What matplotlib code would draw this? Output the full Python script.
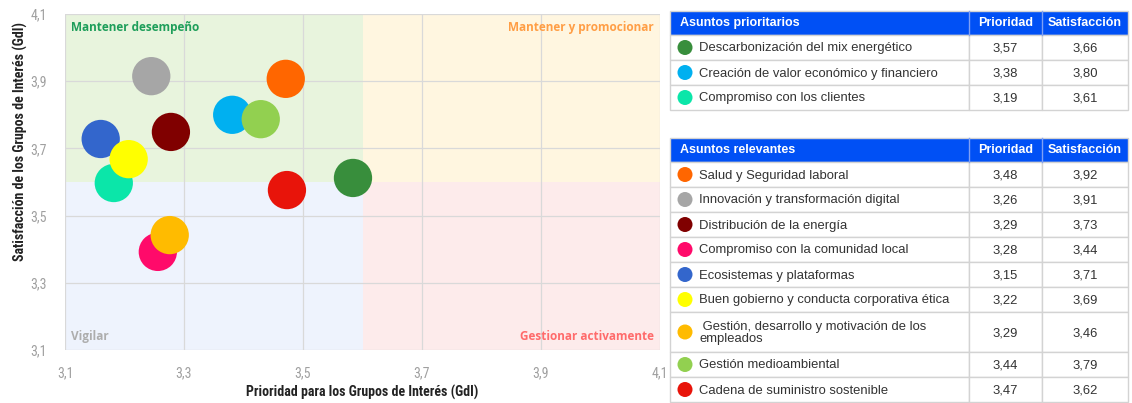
import matplotlib.pyplot as plt
from matplotlib.patches import Rectangle, Circle

# --- data ---
# asuntos prioritarios
prio_names = ["Descarbonización del mix energético",
              "Creación de valor económico y financiero",
              "Compromiso con los clientes"]
prio_colors = ["#388E3C", "#00B0F0", "#0BE6A9"]
prio_prioridad = ["3,57", "3,38", "3,19"]
prio_satisf = ["3,66", "3,80", "3,61"]
# positions as drawn in the bubble chart
prio_x = [3.584, 3.381, 3.182]
prio_y = [3.612, 3.800, 3.597]

# asuntos relevantes
rel_names = ["Salud y Seguridad laboral",
             "Innovación y transformación digital",
             "Distribución de la energía",
             "Compromiso con la comunidad local",
             "Ecosistemas y plataformas",
             "Buen gobierno y conducta corporativa ética",
             " Gestión, desarrollo y motivación de los\nempleados",
             "Gestión medioambiental",
             "Cadena de suministro sostenible"]
rel_colors = ["#FF6600", "#A6A6A6", "#800000", "#FF0A6A", "#3366CC",
              "#FFFF00", "#FFBB00", "#92D050", "#E8140A"]
rel_prioridad = ["3,48", "3,26", "3,29", "3,28", "3,15", "3,22", "3,29", "3,44", "3,47"]
rel_satisf = ["3,92", "3,91", "3,73", "3,44", "3,71", "3,69", "3,46", "3,79", "3,62"]
rel_x = [3.471, 3.245, 3.278, 3.256, 3.160, 3.207, 3.276, 3.429, 3.473]
rel_y = [3.907, 3.915, 3.749, 3.392, 3.728, 3.668, 3.442, 3.787, 3.576]

ticks = [3.1, 3.3, 3.5, 3.7, 3.9, 4.1]
tick_labels = ["3,1", "3,3", "3,5", "3,7", "3,9", "4,1"]
split = 3.6

narrow = ["Roboto Condensed", "Roboto"]

W, H = 1132, 403
fig = plt.figure(figsize=(W / 100, H / 100), dpi=100)

# --- bubble chart ---
ax = fig.add_axes([65 / W, 1 - 350 / H, 595 / W, 336 / H])
ax.set_xlim(3.1, 4.1)
ax.set_ylim(3.1, 4.1)

quads = [
    (3.1, split, split, 4.1, "#E8F4DD"),
    (split, 4.1, split, 4.1, "#FFF6E0"),
    (3.1, split, 3.1, split, "#EEF3FD"),
    (split, 4.1, 3.1, split, "#FDEBEB"),
]
for x0, x1, y0, y1, c in quads:
    ax.add_patch(Rectangle((x0, y0), x1 - x0, y1 - y0, facecolor=c, edgecolor="none", zorder=0))

for t in ticks:
    ax.axvline(t, color="#D9D9D9", lw=0.9, zorder=1)
    ax.axhline(t, color="#D9D9D9", lw=0.9, zorder=1)

ax.scatter(prio_x + rel_x, prio_y + rel_y, s=760, c=prio_colors + rel_colors,
           edgecolors="none", zorder=3)

ax.text(3.11, 4.08, "Mantener desempeño", color="#1E9E5A", fontsize=8.5,
        fontweight="bold", ha="left", va="top", family="Open Sans")
ax.text(4.09, 4.08, "Mantener y promocionar", color="#FF9E45", fontsize=8.5,
        fontweight="bold", ha="right", va="top", family="Open Sans")
ax.text(3.11, 3.12, "Vigilar", color="#ADADAD", fontsize=8.5,
        fontweight="bold", ha="left", va="bottom", family="Open Sans")
ax.text(4.09, 3.12, "Gestionar activamente", color="#FF6B6B", fontsize=8.5,
        fontweight="bold", ha="right", va="bottom", family="Open Sans")

ax.set_xticks(ticks)
ax.set_xticklabels(tick_labels, family=narrow)
ax.set_yticks(ticks)
ax.set_yticklabels(tick_labels, family=narrow)
ax.tick_params(length=0, labelsize=10, labelcolor="#A0A0A0", pad=12)
ax.tick_params(axis="y", pad=13)
for sp in ax.spines.values():
    sp.set_visible(False)
ax.set_xlabel("Prioridad para los Grupos de Interés (GdI)", fontsize=10,
              fontweight="bold", color="#222222", family=narrow)
ax.set_ylabel("Satisfacción de los Grupos de Interés (GdI)", fontsize=10,
              fontweight="bold", color="#222222", family=narrow)
ax.xaxis.set_label_coords(0.5, -0.105)
ax.yaxis.set_label_coords(-0.063, 0.62)

# --- tables ---
tab = fig.add_axes([0, 0, 1, 1], zorder=-1)
tab.set_xlim(0, W)
tab.set_ylim(H, 0)
tab.axis("off")

cols = [670, 969, 1042, 1128]
blue = "#0050F5"
grid = "#D3D3D3"


def draw_table(top, title, names, colors, pri, sat):
    hh = 24
    tab.add_patch(Rectangle((cols[0], top), cols[3] - cols[0], hh, facecolor=blue,
                            edgecolor=grid, lw=1))
    for c in cols[1:3]:
        tab.plot([c, c], [top, top + hh], color="#7FA0F5", lw=1)
    tab.text(cols[0] + 10, top + hh / 2, title, color="white", fontsize=9,
             fontweight="bold", va="center", ha="left", family="Liberation Sans")
    tab.text((cols[1] + cols[2]) / 2, top + hh / 2, "Prioridad", color="white", fontsize=9,
             fontweight="bold", va="center", ha="center", family="Liberation Sans")
    tab.text((cols[2] + cols[3]) / 2, top + hh / 2, "Satisfacción", color="white", fontsize=9,
             fontweight="bold", va="center", ha="center", family="Liberation Sans")
    y = top + hh
    for name, col, p, s in zip(names, colors, pri, sat):
        rh = 40 if "\n" in name else 25
        for i in range(3):
            tab.add_patch(Rectangle((cols[i], y), cols[i + 1] - cols[i], rh,
                                    facecolor="white", edgecolor=grid, lw=1))
        tab.add_patch(Circle((685, y + rh / 2), 7.5, facecolor=col, edgecolor="none"))
        tab.text(699, y + rh / 2 + 1, name, fontsize=9.4, color="#333333", va="center",
                 ha="left", family="Liberation Sans", linespacing=1.0)
        tab.text((cols[1] + cols[2]) / 2, y + rh / 2 + 1, p, fontsize=9.4, color="#333333",
                 va="center", ha="center", family="Liberation Sans")
        tab.text((cols[2] + cols[3]) / 2, y + rh / 2 + 1, s, fontsize=9.4, color="#333333",
                 va="center", ha="center", family="Liberation Sans")
        y += rh


draw_table(11, "Asuntos prioritarios", prio_names, prio_colors, prio_prioridad, prio_satisf)
draw_table(138, "Asuntos relevantes", rel_names, rel_colors, rel_prioridad, rel_satisf)

fig.savefig("out.png", dpi=100)
